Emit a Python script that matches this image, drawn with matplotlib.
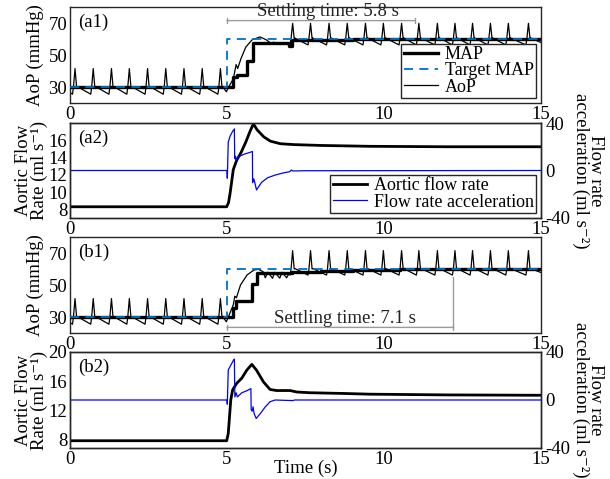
import numpy as np
import matplotlib
matplotlib.use("Agg")
import matplotlib.pyplot as plt

plt.rcParams['font.family'] = ['Liberation Serif', 'DejaVu Serif']
plt.rcParams['axes.unicode_minus'] = False
FS = 13.5

# ---------------- data ----------------
time_ticks = [0, 5, 10, 15]
aop_ticks = [30, 50, 70]

# target MAP
target_t = [0, 5, 5, 15]
target_v = [30, 30, 60, 60]

# MAP (step) panel a1 / b1
a1_map_t = [0, 5.19, 5.31, 5.65, 5.83, 6.96, 7.08, 9.0, 15]
a1_map_v = [30, 36.0, 37.5, 46.0, 57.6, 55.6, 59.6, 59.8, 59.8]
b1_map_t = [0, 5.18, 5.30, 5.79, 5.95, 7.06, 8.0, 9.0, 10.5, 15]
b1_map_v = [30, 35.8, 39.8, 50.5, 57.2, 58.3, 58.8, 59.3, 59.7, 59.7]

# one heart beat (time from systolic peak, offset from beat level)
beat_dt = [-0.08, -0.05, 0.0, 0.05, 0.07]
a_pre_dv = [-4.5, 0.0, 11.5, 0.0, 0.3]
a1_post_dv = [-4.0, 0.0, 9.5, 0.0, 0.3]
b1_post_dv = [-3.8, 0.0, 11.5, 0.0, 0.3]

pre_peaks = [0.16, 0.74, 1.32, 1.89, 2.47, 3.05, 3.63, 4.21, 4.79]
post_peaks = [7.09, 7.66, 8.25, 8.83, 9.41, 9.98, 10.56, 11.11, 11.70,
              12.26, 12.82, 13.39, 13.96, 14.60]
pre_level = 30.0
a1_post_level = 60.3
b1_post_level = 60.0
aop_start = 26.5
aop_end = 57.8

# AoP transient after the set-point change
a1_trans_t = [4.98, 5.05, 5.20, 5.29, 5.34, 5.45, 5.60, 5.80, 6.05, 6.25,
              6.35, 6.42, 6.48, 6.60, 6.70, 6.78, 6.90, 6.98]
a1_trans_v = [27.0, 30.0, 35.0, 44.0, 41.5, 48.0, 55.0, 59.5, 61.3, 59.5,
              58.0, 56.8, 58.0, 57.3, 56.5, 57.8, 57.2, 55.8]
b1_trans_t = [4.98, 5.05, 5.20, 5.25, 5.30, 5.43, 5.64, 5.86, 6.00, 6.15,
              6.22, 6.30, 6.45, 6.52, 6.68, 6.75, 6.90, 6.97]
b1_trans_v = [27.0, 30.4, 37.6, 43.0, 42.0, 50.0, 56.3, 59.4, 59.8, 58.3,
              54.5, 58.0, 54.2, 58.0, 54.3, 58.0, 54.5, 57.0]

# aortic flow rate
a2_flow_t = [0, 4.99, 5.05, 5.10, 5.20, 5.31, 5.45, 5.60, 5.73, 5.84, 5.96,
             6.17, 6.38, 6.70, 7.12, 8.0, 9.56, 12.0, 15.0]
a2_flow_v = [8.3, 8.3, 8.8, 9.9, 12.6, 13.7, 14.6, 15.8, 17.0, 17.9, 17.2,
             16.4, 15.9, 15.6, 15.5, 15.4, 15.3, 15.25, 15.25]
b2_flow_t = [0, 4.99, 5.04, 5.12, 5.18, 5.31, 5.47, 5.63, 5.79, 5.94, 6.16,
             6.37, 6.58, 7.01, 7.22, 7.64, 8.70, 9.55, 12.0, 15.0]
b2_flow_v = [7.8, 7.8, 8.8, 13.4, 14.8, 15.7, 16.4, 17.5, 18.3, 17.5, 15.9,
             14.85, 14.7, 14.7, 14.5, 14.4, 14.3, 14.2, 14.1, 14.05]

# flow rate acceleration
a2_acc_t = [0, 5.0, 5.01, 5.04, 5.10, 5.18, 5.235, 5.245, 5.27, 5.29, 5.31,
            5.40, 5.55, 5.70, 5.81, 5.815, 5.85, 5.88, 5.94, 6.10, 6.30,
            6.54, 6.80, 7.00, 7.05, 7.10, 7.50, 15]
a2_acc_v = [0, 0, -6.5, 24, 29, 33, 35, 10, 12, 8.8, 9.5,
            12, 13.8, 15, 16, -10.3, -7, -9.5, -16.4, -10, -6,
            -3.8, -2, -1.0, 0.4, -0.4, -0.2, 0]
b2_acc_t = [0, 5.0, 5.01, 5.04, 5.12, 5.21, 5.235, 5.25, 5.29, 5.33, 5.47,
            5.63, 5.76, 5.77, 5.80, 5.83, 5.86, 5.93, 6.06, 6.22, 6.37,
            6.53, 7.10, 7.15, 15]
b2_acc_v = [0, 0, -3.5, 25, 29, 33.3, 34, 2.6, 6, 2.6, 6,
            7.7, 9.5, -8, -9.3, -5.7, -11, -15.4, -11.3, -5.7, -1.5,
            0, -0.5, 0, 0]

a1_settle = (5.0, 11.0, 71.5)
b1_settle = (5.0, 12.2, 23.5, 55.2)


def aop_series(pre_dv, post_dv, post_level, trans_t, trans_v):
    t = [0.0]
    v = [aop_start]
    for p in pre_peaks:
        t += [p + d for d in beat_dt]
        v += [pre_level + d for d in pre_dv]
    t += trans_t
    v += trans_v
    for p in post_peaks:
        t += [p + d for d in beat_dt]
        v += [post_level + d for d in post_dv]
    t.append(15.0)
    v.append(aop_end)
    return t, v


W, H = 610, 479
fig = plt.figure(figsize=(W / 100, H / 100), dpi=100)
L, R = 70, 541


def mk(top, bot):
    return fig.add_axes([L / W, 1 - bot / H, (R - L) / W, (bot - top) / H])


ax_a1 = mk(7, 103)
ax_a2 = mk(123, 218)
ax_b1 = mk(237, 333)
ax_b2 = mk(352, 448)

SPINE = '#262626'
BLUE_T = '#0072BD'
BLUE = '#0000FF'
GRAY = '#9a9a9a'

LEG_KW = dict(fontsize=13, frameon=True, fancybox=False, framealpha=1,
              edgecolor=SPINE, borderpad=0.15, labelspacing=-0.04,
              handlelength=1.9, handletextpad=0.35, borderaxespad=0.25)


def style(ax):
    ax.set_xlim(0, 15)
    ax.set_xticks(time_ticks)
    ax.tick_params(labelsize=FS, direction='in', length=0, pad=2)
    for s in ax.spines.values():
        s.set_color(SPINE)
        s.set_linewidth(1.0)


def aop_panel(ax, pre_dv, post_dv, post_level, trans_t, trans_v, map_t, map_v, tag):
    t, v = aop_series(pre_dv, post_dv, post_level, trans_t, trans_v)
    l_aop, = ax.plot(t, v, color='black', lw=0.9, label='AoP', zorder=2)
    l_map, = ax.plot(map_t, map_v, color='black', lw=2.4, drawstyle='steps-post',
                     label='MAP', zorder=3)
    l_tg, = ax.plot(target_t, target_v, color=BLUE_T, lw=1.3, dashes=(5, 3.5),
                    label='Target MAP', zorder=4)
    ax.set_ylim(20, 80)
    ax.set_yticks(aop_ticks)
    style(ax)
    ax.set_ylabel('AoP (mmHg)', fontsize=FS, va='center')
    ax.yaxis.set_label_coords(-0.074, 0.5)
    ax.text(0.018, 0.93, tag, transform=ax.transAxes, fontsize=FS, va='top', ha='left')
    return l_map, l_tg, l_aop


def flow_panel(ax, ft, fv, at, av, ylim, yticks, tag, legend):
    l_f, = ax.plot(ft, fv, color='black', lw=2.0, label='Aortic flow rate')
    ax.set_ylim(*ylim)
    ax.set_yticks(yticks)
    style(ax)
    ax.set_ylabel('Aortic Flow\nRate (ml s\u207b\u00b9)', fontsize=FS, va='center',
                  linespacing=0.85)
    ax.yaxis.set_label_coords(-0.082, 0.5)
    ax.text(0.018, 0.93, tag, transform=ax.transAxes, fontsize=FS, va='top', ha='left')
    tw = ax.twinx()
    l_a, = tw.plot(at, av, color=BLUE, lw=0.9, label='Flow rate acceleration')
    tw.set_ylim(-40, 40)
    tw.set_yticks([-40, 0, 40])
    tw.tick_params(labelsize=FS, direction='in', length=0, pad=3)
    for s in tw.spines.values():
        s.set_color(SPINE)
        s.set_linewidth(1.0)
    tw.set_ylabel('Flow rate\nacceleration (ml s\u207b\u00b2)', fontsize=FS,
                  rotation=270, va='center', ha='center', linespacing=0.85)
    tw.yaxis.set_label_coords(1.1, 0.5)
    if legend:
        lg = tw.legend([l_f, l_a], [l_f.get_label(), l_a.get_label()],
                       loc='lower right', **LEG_KW)
        lg.get_frame().set_linewidth(1.0)
    return tw


h = aop_panel(ax_a1, a_pre_dv, a1_post_dv, a1_post_level, a1_trans_t, a1_trans_v,
              a1_map_t, a1_map_v, '(a1)')
lg = ax_a1.legend(h, ['MAP', 'Target MAP', 'AoP'], loc='lower right', **LEG_KW)
lg.get_frame().set_linewidth(1.0)
aop_panel(ax_b1, a_pre_dv, b1_post_dv, b1_post_level, b1_trans_t, b1_trans_v,
          b1_map_t, b1_map_v, '(b1)')

flow_panel(ax_a2, a2_flow_t, a2_flow_v, a2_acc_t, a2_acc_v, (7, 18),
           [8, 10, 12, 14, 16], '(a2)', True)
flow_panel(ax_b2, b2_flow_t, b2_flow_v, b2_acc_t, b2_acc_v, (6.8, 20),
           [8, 12, 16, 20], '(b2)', False)
ax_b2.set_xlabel('Time (s)', fontsize=FS, labelpad=-6)

# settling-time annotations
s0, s1, sy = a1_settle
ax_a1.annotate('', xy=(s1, sy), xytext=(s0, sy),
               arrowprops=dict(arrowstyle='|-|,widthA=0.2,widthB=0.2', color=GRAY,
                               lw=1.0, shrinkA=0, shrinkB=0))
ax_a1.text((s0 + s1) / 2 + 0.2, sy + 0.3, 'Settling time: 5.8 s', fontsize=FS,
           ha='center', va='bottom', color='#222222', zorder=1)

s0, s1, sy, stop = b1_settle
ax_b1.annotate('', xy=(s1, sy), xytext=(s0, sy),
               arrowprops=dict(arrowstyle='|-|,widthA=0.2,widthB=0.2', color=GRAY,
                               lw=1.0, shrinkA=0, shrinkB=0))
ax_b1.plot([s1, s1], [sy, stop], color=GRAY, lw=1.0)
ax_b1.text((s0 + s1) / 2 + 0.15, sy + 0.3, 'Settling time: 7.1 s', fontsize=FS,
           ha='center', va='bottom', color='#222222')

fig.savefig('out.png', dpi=100)
